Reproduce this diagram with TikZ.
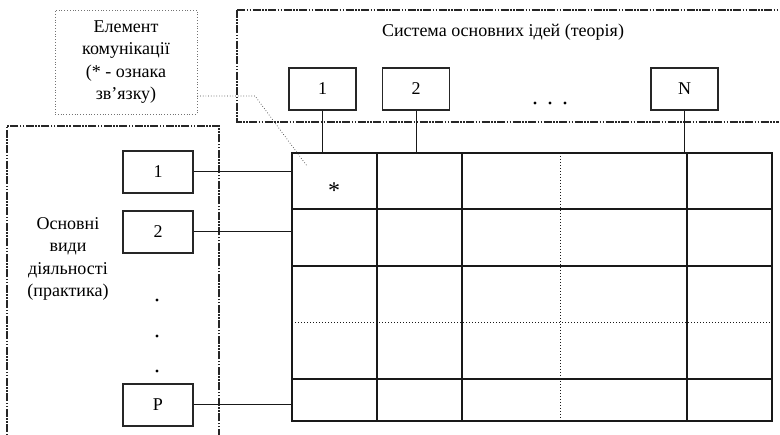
\documentclass[tikz,border=0pt]{standalone}
\usepackage{fontspec}
\setmainfont{Liberation Serif}
\begin{document}
\begin{tikzpicture}[x=1pt,y=-1pt,
  numbox/.style={draw=black!85,line width=1.1pt,minimum width=67pt,minimum height=42pt,inner sep=0pt,font=\fontsize{18}{18}\selectfont},
  dashdotbox/.style={draw=black!85,line width=1.2pt,dash pattern=on 8pt off 1.5pt on 1.5pt off 1.5pt on 1.5pt off 1.5pt},
  callout/.style={draw=black!55,line width=0.8pt,dotted},
  conn/.style={draw=black!90,line width=1pt},
  gridline/.style={draw=black!90,line width=1.1pt},
  dotline/.style={draw=black!90,line width=1pt,dotted},
  lbl/.style={font=\fontsize{18}{22.5}\selectfont,align=center,inner sep=0pt},
  bigdot/.style={circle,fill=black,inner sep=0pt,minimum size=3.2pt}
]
\useasboundingbox (0,0) rectangle (780,435);
% outer dash-dot frames
\draw[dashdotbox] (237,10) -- (779,10);
\draw[dashdotbox] (237,10) -- (237,122) -- (779,122);
\draw[dashdotbox] (219,437) -- (219,126) -- (7,126) -- (7,437);
% theory title
\node[lbl] (theory) at (503,32) {Система основних ідей (теорія)};
% top boxes
\node[numbox] (t1) at (322.5,89) {1};
\node[numbox] (t2) at (416,89) {2};
\node[numbox] (tN) at (684.5,89) {N};
\node[bigdot] (td1) at (535,103) {};
\node[bigdot] (td2) at (550,103) {};
\node[bigdot] (td3) at (565,103) {};
% left boxes
\node[numbox,minimum width=70pt] (l1) at (158,172) {1};
\node[numbox,minimum width=70pt] (l2) at (158,232) {2};
\node[numbox,minimum width=70pt] (lP) at (158,405) {P};
\node[bigdot] (ld1) at (157,300) {};
\node[bigdot] (ld2) at (157,336) {};
\node[bigdot] (ld3) at (157,371) {};
\node[lbl] (practice) at (68,259) {Основні\\види\\діяльності\\(практика)};
% callout
\node[callout,lbl,minimum width=142pt,minimum height=104pt] (note) at (126,62) {Елемент\\комунікації\\(* - ознака\\зв’язку)};
% grid
\node[draw=none,minimum width=480pt,minimum height=268pt,inner sep=0pt] (grid) at (532,287) {};
\draw[gridline] (292,153) rectangle (772,421);
\foreach \x in {377,462,687} \draw[gridline] (\x,153) -- (\x,421);
\foreach \y in {209,266,379} \draw[gridline] (292,\y) -- (772,\y);
\draw[dotline] (560,153) -- (560,421);
\draw[dotline] (292,323) -- (772,323);
\node[font=\fontsize{24}{24}\selectfont,inner sep=0pt] (star) at (334,191) {*};
% connectors
\draw[conn] (t1.south) -- (t1.south |- grid.north);
\draw[conn] (t2.south) -- (t2.south |- grid.north);
\draw[conn] (tN.south) -- (tN.south |- grid.north);
\draw[conn] (l1.east) -- (l1.east -| grid.west);
\draw[conn] (l2.east) -- (l2.east -| grid.west);
\draw[conn] (lP.east) -- (lP.east -| grid.west);
\coordinate (leadend) at (307,166);
\draw[black!75,line width=0.7pt,dotted] (note.east |- 0,96) -- (255,96) -- (leadend);
\end{tikzpicture}
\end{document}
